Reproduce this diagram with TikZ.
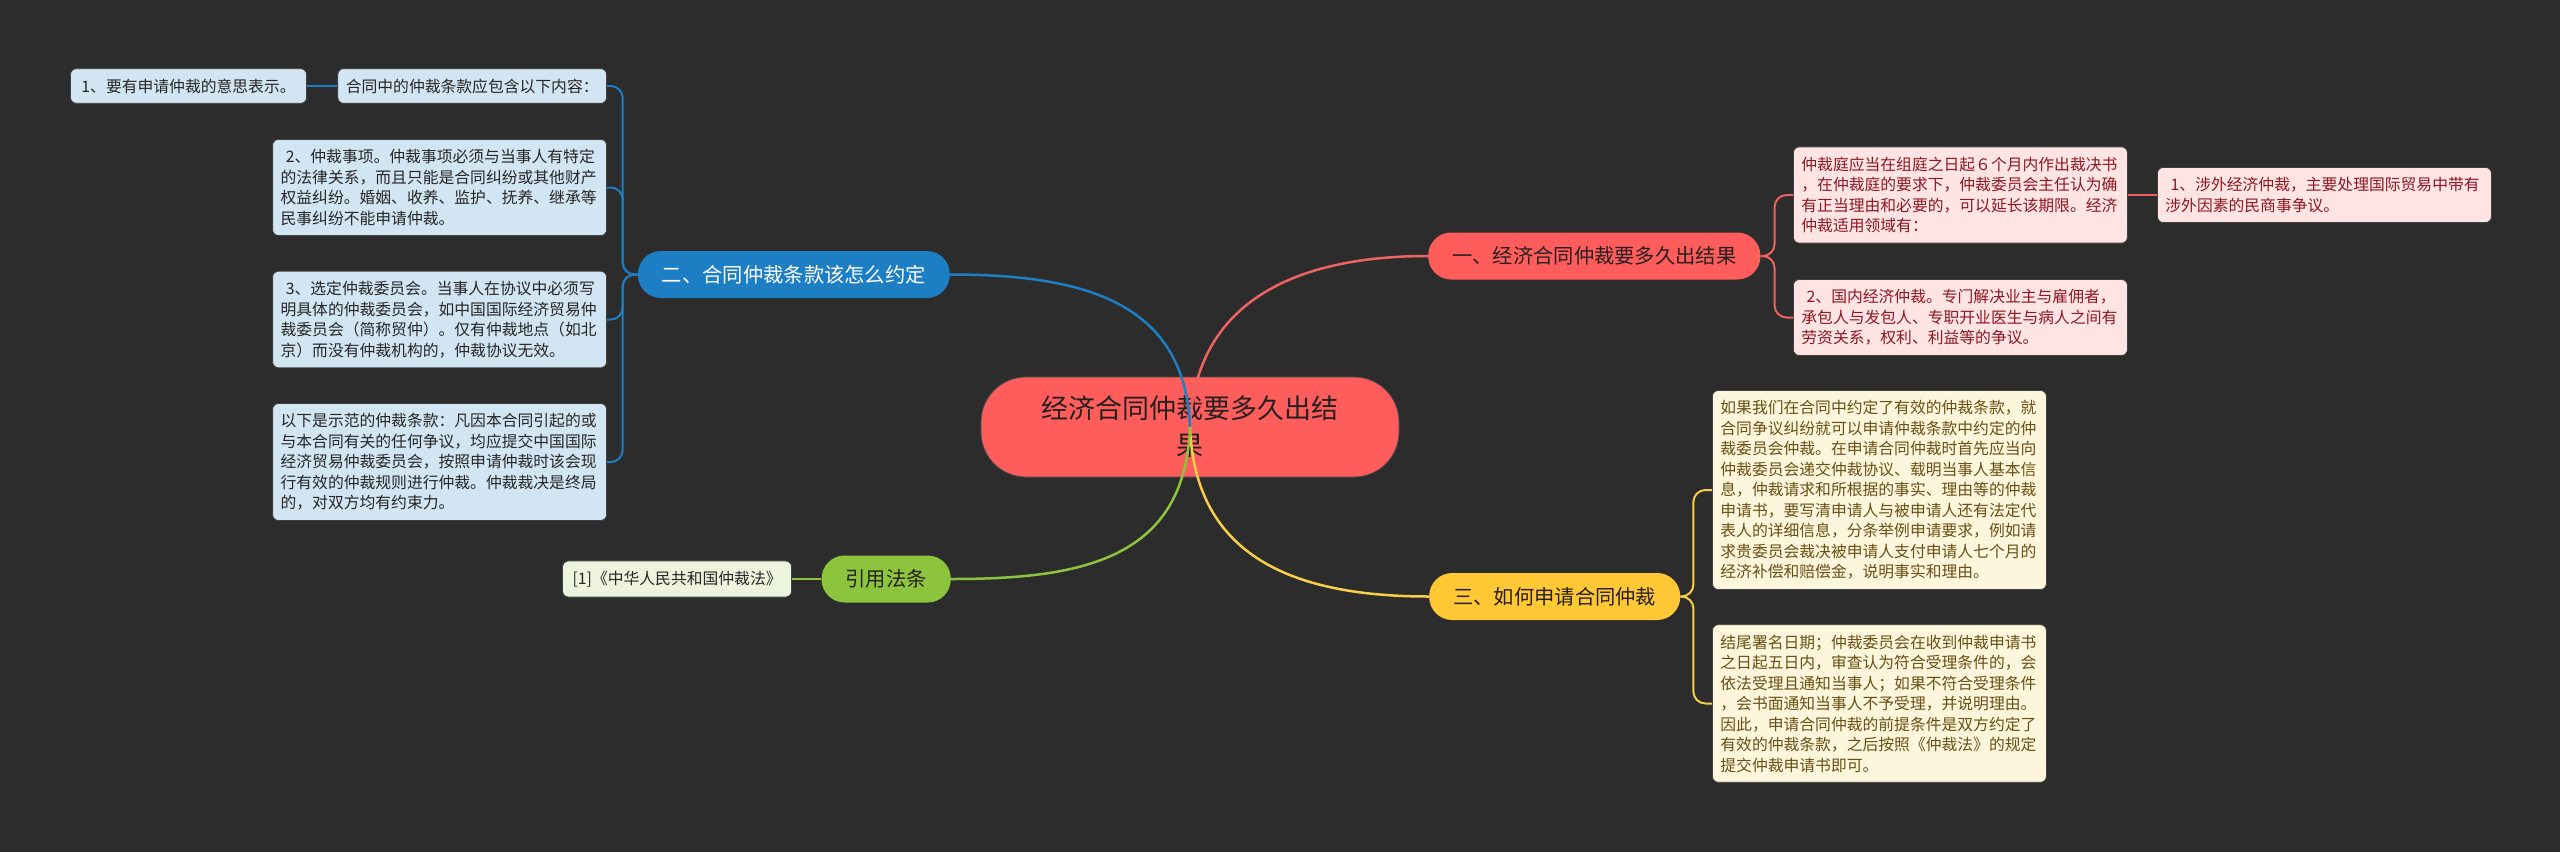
\documentclass[tikz,border=0pt]{standalone}
\usepackage{fontspec}
\newfontfamily\cjk{Noto Sans CJK SC}
\usepackage{tikz}
\definecolor{bgGray}{RGB}{44,44,44}
\definecolor{rootRed}{RGB}{255,92,92}
\definecolor{lineRed}{RGB}{238,98,98}
\definecolor{pinkFill}{RGB}{255,228,228}
\definecolor{pinkText}{RGB}{140,24,34}
\definecolor{mainBlue}{RGB}{30,126,196}
\definecolor{paleBlue}{RGB}{210,229,242}
\definecolor{mainYellow}{RGB}{255,200,52}
\definecolor{lineYellow}{RGB}{246,206,72}
\definecolor{paleYellow}{RGB}{253,246,220}
\definecolor{yelText}{RGB}{104,80,20}
\definecolor{mainGreen}{RGB}{140,196,62}
\definecolor{paleGreen}{RGB}{236,244,222}
\definecolor{darkText}{RGB}{40,32,32}

\begin{document}
\begin{tikzpicture}[x=1pt, y=-1pt,
    rootnode/.style={fill=rootRed, draw=black!70, line width=0.8pt, rounded corners=45pt,
      minimum width=418pt, minimum height=100pt, text width=302pt, align=center,
      text=darkText, font=\cjk\fontsize{27}{37}\selectfont},
    branch/.style={rounded corners=23pt, minimum height=47pt, inner xsep=24pt, inner ysep=0pt,
      text=darkText, font=\cjk\fontsize{20.3}{24}\selectfont},
    leaf/.style={draw=black!75, line width=0.8pt, rounded corners=6pt, inner xsep=8pt, inner ysep=10pt,
      align=left, font=\cjk\fontsize{15.8}{20.5}\selectfont},
    wideleaf/.style={leaf, text width=318pt},
    conn/.style={line width=2.5pt},
    twig/.style={line width=2pt, rounded corners=12pt}]

  \useasboundingbox (0,0) rectangle (2560,852);
  \fill[bgGray] (0,0) rectangle (2560,852);

  % centre and main branches
  \node[rootnode] (root) at (1190,427) {经济合同仲裁要多久出结\\果};
  \node[branch, fill=rootRed, anchor=west] (brA) at (1428,256) {一、经济合同仲裁要多久出结果};
  \node[branch, fill=mainBlue, text=white, anchor=east] (brB) at (950,274.5) {二、合同仲裁条款该怎么约定};
  \node[branch, fill=mainYellow, anchor=west] (brC) at (1429,596.5) {三、如何申请合同仲裁};
  \node[branch, fill=mainGreen, anchor=east] (brD) at (951,579) {引用法条};

  % red side
  \node[wideleaf, fill=pinkFill, text=pinkText, anchor=west] (a1) at (1793,195)
    {仲裁庭应当在组庭之日起６个月内作出裁决书\\，在仲裁庭的要求下，仲裁委员会主任认为确\\有正当理由和必要的，可以延长该期限。经济\\仲裁适用领域有：};
  \node[wideleaf, fill=pinkFill, text=pinkText, anchor=west] (a2) at (1793,317.5)
    {\ 2、国内经济仲裁。专门解决业主与雇佣者，\\承包人与发包人、专职开业医生与病人之间有\\劳资关系，权利、利益等的争议。};
  \node[wideleaf, fill=pinkFill, text=pinkText, anchor=west] (a3) at (2157,195)
    {\ 1、涉外经济仲裁，主要处理国际贸易中带有\\涉外因素的民商事争议。};

  % blue side
  \node[leaf, fill=paleBlue, text=black!85, anchor=east] (b0) at (607,86) {合同中的仲裁条款应包含以下内容：};
  \node[leaf, fill=paleBlue, text=black!85, anchor=east, inner xsep=11pt] (b1) at (307,86) {1、要有申请仲裁的意思表示。};
  \node[wideleaf, fill=paleBlue, text=black!85, anchor=east] (b2) at (607,187.5)
    {\ 2、仲裁事项。仲裁事项必须与当事人有特定\\的法律关系，而且只能是合同纠纷或其他财产\\权益纠纷。婚姻、收养、监护、抚养、继承等\\民事纠纷不能申请仲裁。};
  \node[wideleaf, fill=paleBlue, text=black!85, anchor=east] (b3) at (607,319.5)
    {\ 3、选定仲裁委员会。当事人在协议中必须写\\明具体的仲裁委员会，如中国国际经济贸易仲\\裁委员会（简称贸仲）。仅有仲裁地点（如北\\京）而没有仲裁机构的，仲裁协议无效。};
  \node[wideleaf, fill=paleBlue, text=black!85, anchor=east] (b4) at (607,462)
    {以下是示范的仲裁条款：凡因本合同引起的或\\与本合同有关的任何争议，均应提交中国国际\\经济贸易仲裁委员会，按照申请仲裁时该会现\\行有效的仲裁规则进行仲裁。仲裁裁决是终局\\的，对双方均有约束力。};

  % yellow side
  \node[wideleaf, fill=paleYellow, text=yelText, anchor=west] (c1) at (1712,490)
    {如果我们在合同中约定了有效的仲裁条款，就\\合同争议纠纷就可以申请仲裁条款中约定的仲\\裁委员会仲裁。在申请合同仲裁时首先应当向\\仲裁委员会递交仲裁协议、载明当事人基本信\\息，仲裁请求和所根据的事实、理由等的仲裁\\申请书，要写清申请人与被申请人还有法定代\\表人的详细信息，分条举例申请要求，例如请\\求贵委员会裁决被申请人支付申请人七个月的\\经济补偿和赔偿金，说明事实和理由。};
  \node[wideleaf, fill=paleYellow, text=yelText, anchor=west] (c2) at (1712,703.5)
    {结尾署名日期；仲裁委员会在收到仲裁申请书\\之日起五日内，审查认为符合受理条件的，会\\依法受理且通知当事人；如果不符合受理条件\\，会书面通知当事人不予受理，并说明理由。\\因此，申请合同仲裁的前提条件是双方约定了\\有效的仲裁条款，之后按照《仲裁法》的规定\\提交仲裁申请书即可。};

  % green side
  \node[leaf, fill=paleGreen, text=black!85, anchor=east, inner xsep=10pt] (d1) at (792,579) {[1]《中华人民共和国仲裁法》};

  % twigs
  \foreach \b in {b0,b2,b3,b4}
    \draw[twig, mainBlue] (brB.west) -- ([xshift=-15pt]brB.west) |- (\b.east);
  \draw[twig, mainBlue] (b0.west) -- (b1.east);
  \foreach \a in {a1,a2}
    \draw[twig, lineRed] (brA.east) -- ([xshift=14pt]brA.east) |- (\a.west);
  \draw[twig, lineRed] (a1.east) -- (a3.west);
  \foreach \c in {c1,c2}
    \draw[twig, lineYellow] (brC.east) -- ([xshift=13pt]brC.east) |- (\c.west);
  \draw[twig, mainGreen] (brD.west) -- (d1.east);

  % centre lines, drawn over the root
  \draw[conn, lineRed] (root.center) .. controls ([xshift=5pt,yshift=127pt]root.center) and ([xshift=-130pt]brA.west) .. (brA.west);
  \draw[conn, mainBlue] (root.center) .. controls ([xshift=-5pt,yshift=127pt]root.center) and ([xshift=130pt]brB.east) .. (brB.east);
  \draw[conn, lineYellow] (root.center) .. controls ([xshift=5pt,yshift=-133pt]root.center) and ([xshift=-130pt]brC.west) .. (brC.west);
  \draw[conn, mainGreen] (root.center) .. controls ([xshift=-5pt,yshift=-133pt]root.center) and ([xshift=130pt]brD.east) .. (brD.east);
\end{tikzpicture}
\end{document}
